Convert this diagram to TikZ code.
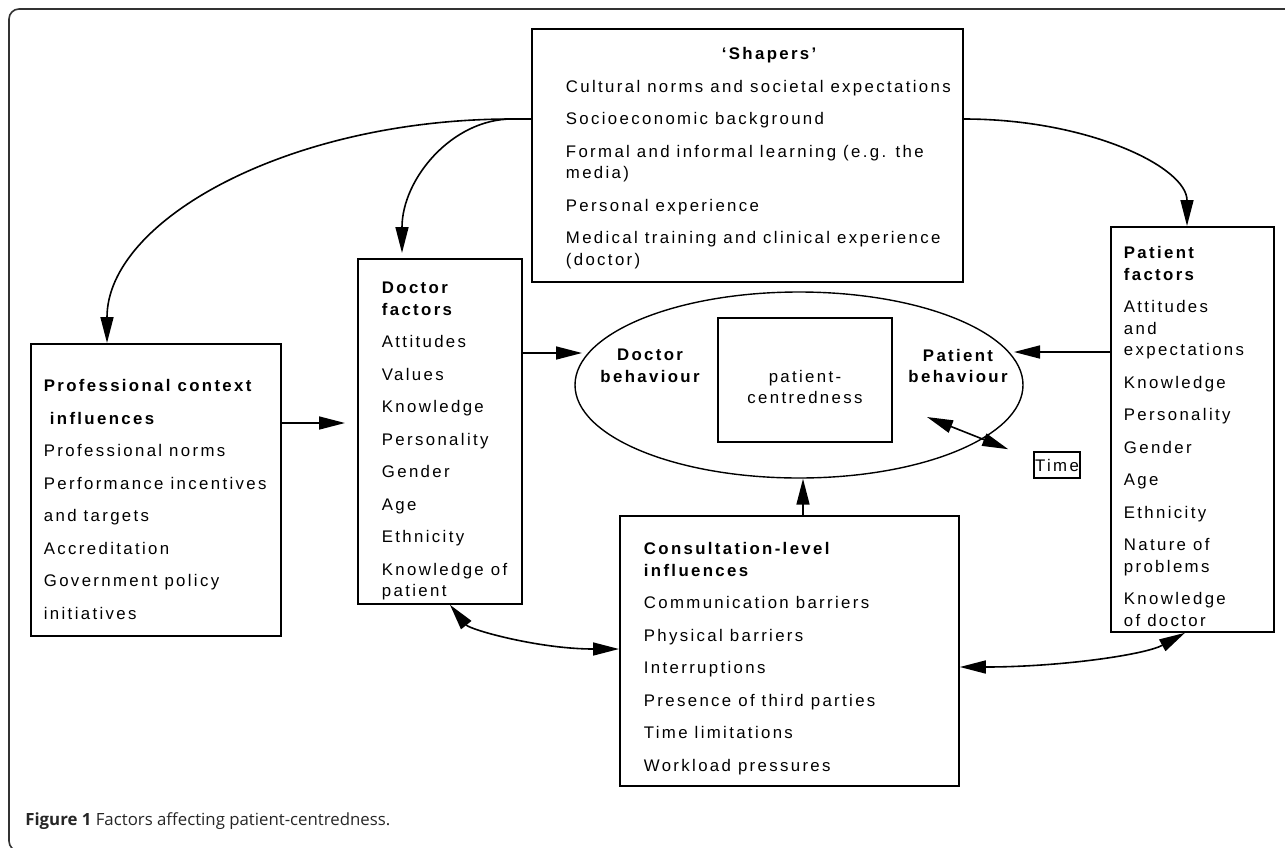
\documentclass[tikz,border=0pt]{standalone}
\usepackage{fontspec}
\usetikzlibrary{arrows.meta,calc,positioning,shapes.geometric}
\newfontfamily\boxfont[LetterSpace=14]{Liberation Sans}
\newfontfamily\capfont{Open Sans}
\newcommand{\boxlines}[5]{\parbox[c][#1][t]{#2}{\boxfont\fontsize{8.4pt}{10.75pt}\selectfont
  \setlength{\leftskip}{#3}\setlength{\rightskip}{-60pt}\rule{0pt}{#4}#5}}
\newcommand{\nx}{\\[5.5pt]}

\begin{document}
\begin{tikzpicture}[x=0.5pt,y=-0.5pt,
    factor/.style ={rectangle,draw=black,line width=0.9pt,inner sep=0pt,anchor=north west},
    plain/.style  ={font=\boxfont\fontsize{8.4pt}{10.75pt}\selectfont,align=center},
    heading/.style={font=\boxfont\bfseries\fontsize{8.4pt}{10.75pt}\selectfont,align=center},
    link/.style   ={-,line width=0.8pt},
    arr/.style    ={-{Triangle[length=13pt,width=6.5pt]},line width=0.8pt},
    dbl/.style    ={{Triangle[length=13pt,width=6.5pt]}-{Triangle[length=13pt,width=6.5pt]},line width=0.8pt},
    frame/.style  ={draw=black!80,line width=0.8pt,rounded corners=5pt}]

  \useasboundingbox (0,0) rectangle (1285,847);
  \clip (0,0) rectangle (1285,847);
  \draw[frame] (1300,851) -- (9,851) -- (9,9) -- (1300,9);

  \node[factor] (shapers) at (531,28)  {\boxlines{126.5pt}{215.5pt}{17pt}{15.5pt}{\hspace*{78pt}\textbf{‘Shapers’}\nx
      Cultural norms and societal expectations\nx Socioeconomic background\nx
      Formal and informal learning (e.g. the\\media)\nx Personal experience\nx
      Medical training and clinical experience\\(doctor)}};
  \node[factor] (doctor)  at (357,258) {\boxlines{172.5pt}{82pt}{12pt}{17.5pt}{\textbf{Doctor\\factors}\nx
      Attitudes\nx Values\nx Knowledge\nx Personality\nx Gender\nx Age\nx Ethnicity\nx Knowledge of\\patient}};
  \node[factor] (prof)    at (30,343)  {\boxlines{146pt}{125pt}{6.5pt}{24pt}{\textbf{Professional context}\nx
      \hspace*{3pt}\textbf{influences}\nx Professional norms\nx Performance incentives\nx and targets\nx
      Accreditation\nx Government policy\nx initiatives}};
  \node[factor] (patient) at (1110,226) {\boxlines{202.5pt}{81.5pt}{6.5pt}{16pt}{\textbf{Patient\\factors}\nx
      Attitudes\\and\\expectations\nx Knowledge\nx Personality\nx Gender\nx Age\nx Ethnicity\nx
      Nature of\\problems\nx Knowledge\\of doctor}};
  \node[factor] (consult) at (619,515) {\boxlines{135pt}{169.5pt}{12pt}{19.5pt}{\textbf{Consultation-level\\influences}\nx
      Communication barriers\nx Physical barriers\nx Interruptions\nx Presence of third parties\nx
      Time limitations\nx Workload pressures}};

  \node[ellipse,draw,line width=0.7pt,minimum width=224pt,minimum height=93pt,inner sep=0pt] (behav) at (799,385) {};
  \node[plain,draw,line width=0.8pt,minimum width=87pt,minimum height=62pt,inner sep=0pt] (pc) at (805,380) {\rule{0pt}{13pt}patient-\\centredness};
  \node[heading] (docbeh) at (650,366) {Doctor\\behaviour};
  \node[heading] (patbeh) at (958,366) {Patient\\behaviour};
  \node[plain,draw,line width=0.8pt,minimum width=23pt,minimum height=13pt,inner sep=0pt] (time) at (1057,465) {Time};

  \coordinate (sj) at ($(shapers.north west)+(-19,91)$);
  \draw[link] ($(shapers.north west)+(0,91)$) -- (sj);
  \draw[arr] (sj) .. controls +(-223,0) and +(0,-123) .. ($(prof.north west)+(77,0)$);
  \draw[arr] (sj) .. controls +(-60,0) and +(0,-74) .. ($(doctor.north west)+(45,-5)$);
  \draw[arr] ($(shapers.north east)+(0,91)$) .. controls +(124,0) and +(0,-59) .. ($(patient.north west)+(77,0)$);
  \draw[arr] ($(prof.north east)+(0,80)$) -- ($(doctor.north west)+(-12,165)$);
  \draw[arr] ($(doctor.north east)+(0,95)$) -- ($(behav.center)+(-217,-32)$);
  \draw[arr] ($(patient.north west)+(0,126)$) -- ($(behav.center)+(215,-33)$);
  \draw[arr] ($(consult.north west)+(184,0)$) -- ($(behav.south)+(4,0)$);
  \draw[dbl] ($(behav.center)+(128,32)$) -- ($(time.north west)+(-25,-2)$);
  \draw[dbl] ($(doctor.south west)+(93,0)$) .. controls +(20,25) and +(-80,0) .. ($(consult.north west)+(0,134)$);
  \draw[dbl] ($(consult.north east)+(0,152)$) .. controls +(100,0) and +(-40,22) .. ($(patient.south west)+(75,0)$);

  \node[anchor=base west,inner sep=0pt,text=black!85,font=\capfont\fontsize{8.4pt}{10pt}\selectfont] (caption)
    at (25,825) {\textbf{Figure 1} Factors affecting patient-centredness.};
\end{tikzpicture}
\end{document}
